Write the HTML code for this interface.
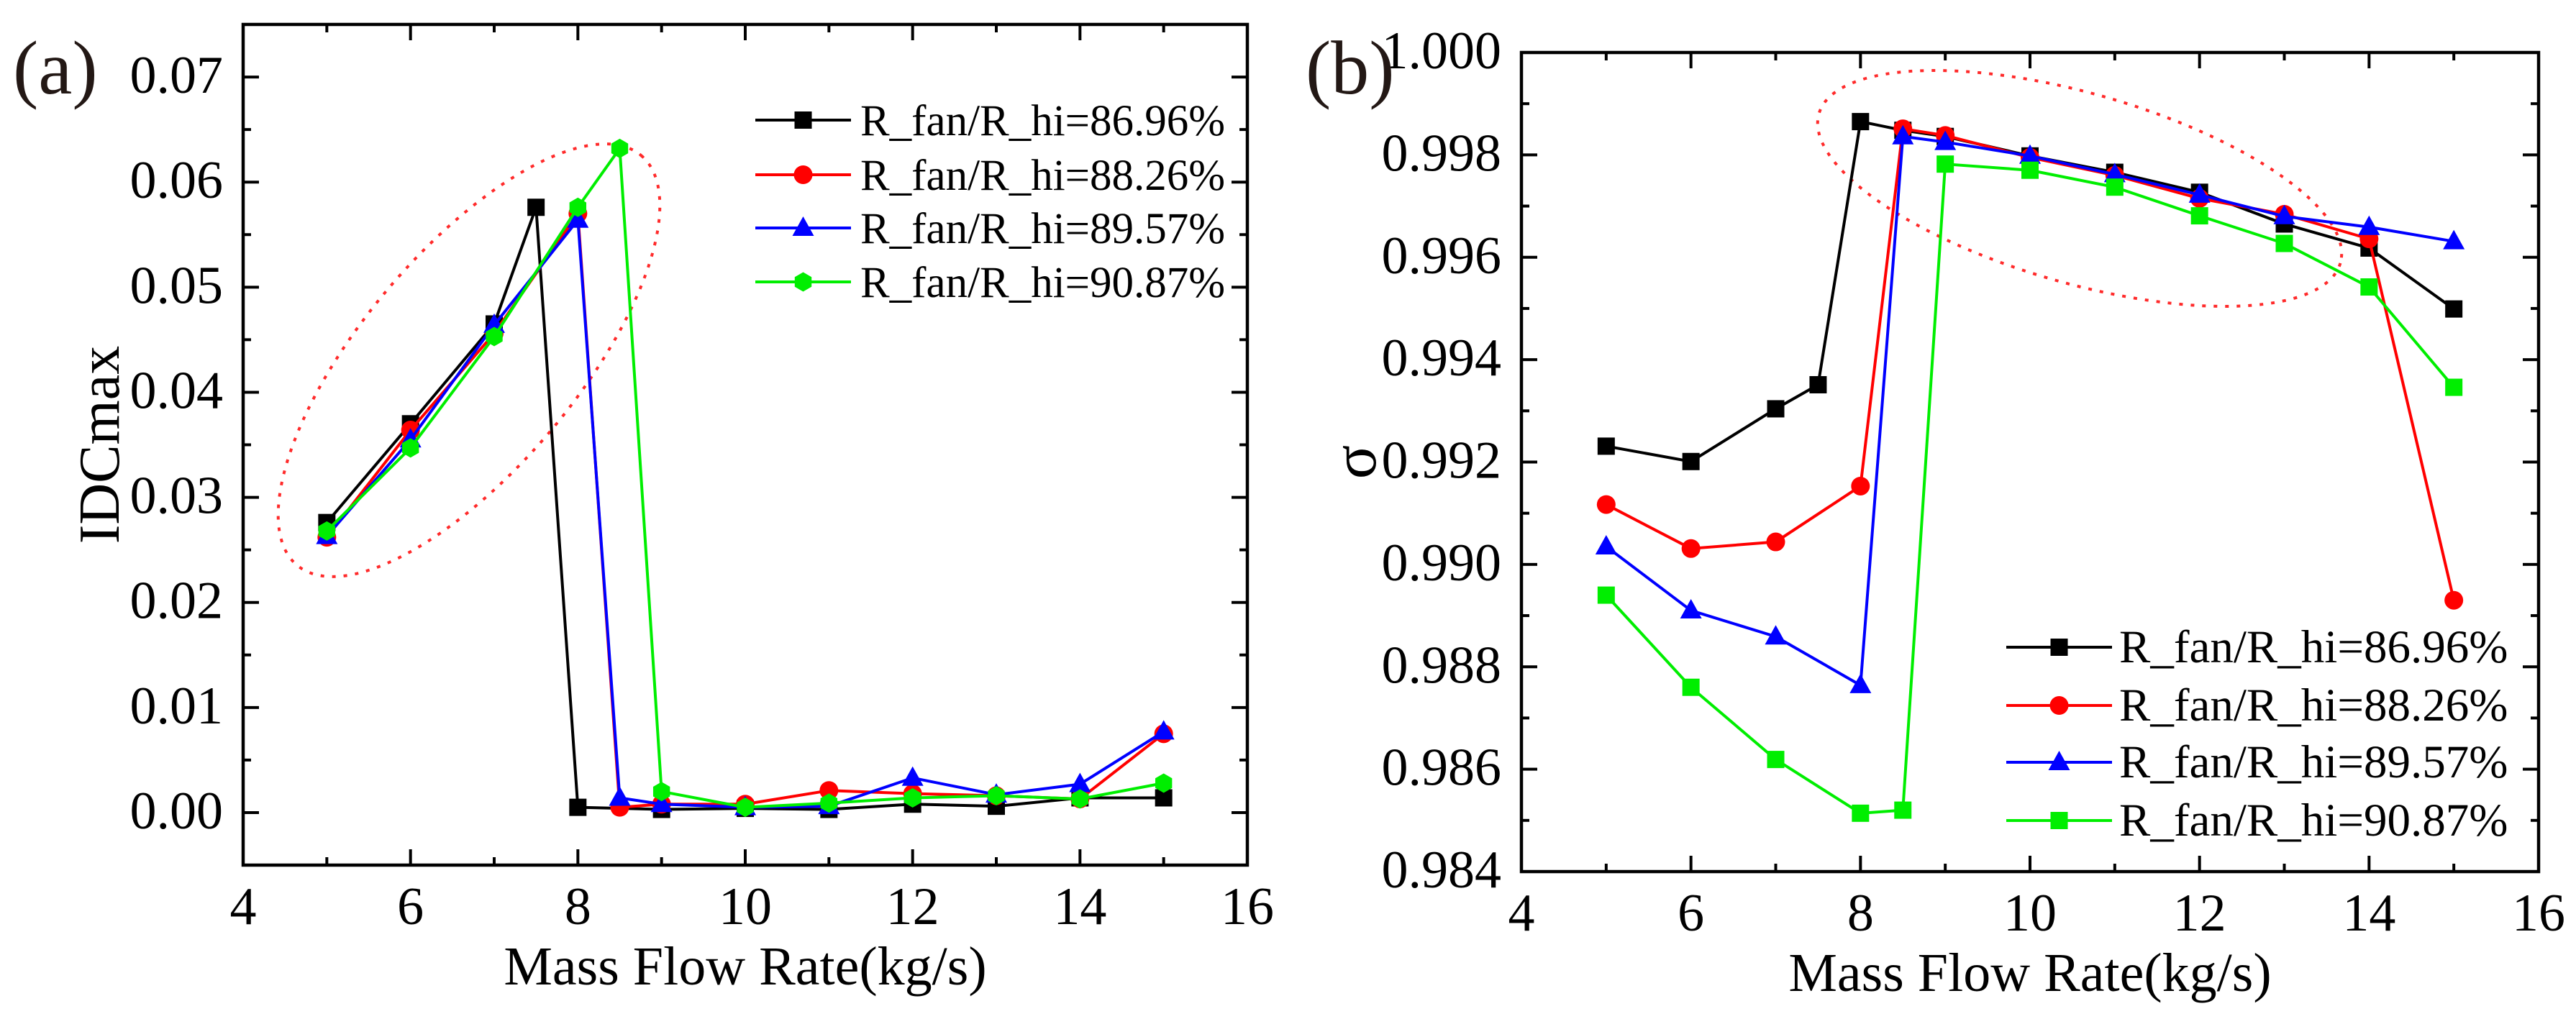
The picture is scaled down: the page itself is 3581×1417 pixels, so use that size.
<!DOCTYPE html>
<html><head><meta charset="utf-8"><style>
html,body{margin:0;padding:0;background:#fff;}
svg text{font-family:"Liberation Serif","Times New Roman",serif;}
</style></head><body>
<svg id="fig" width="3581" height="1412" viewBox="0 0 3581 1412" xmlns="http://www.w3.org/2000/svg">
<rect width="3581" height="1412" fill="#fff"/>
</svg>
<script>
const xsA = [5,6,7,7.5,8,8.5,9,10,11,12,13,14,15];
const blackA = [0.0276,0.0370,0.0465,0.0576,0.0005,null,0.0003,0.0004,0.0003,0.0008,0.0006,0.0014,0.0014];
const xsA2 = [5,6,7,8,8.5,9,10,11,12,13,14,15];
const redA = [0.0262,0.0364,0.0456,0.0570,0.0005,0.0008,0.0008,0.0021,0.0018,0.0016,0.0013,0.0075];
const blueA = [0.0263,0.0355,0.0464,0.0564,0.0014,0.0008,0.0005,0.0006,0.0033,0.0017,0.0027,0.0077];
const greenA = [0.0268,0.0347,0.0453,0.0576,0.0632,0.0020,0.0005,0.0009,0.0014,0.0016,0.0013,0.0028];
const xsB1 = [5,6,7,7.5,8,8.5,9,10,11,12,13,14,15];
const blackB = [0.99231,0.99201,0.99304,0.99351,0.99865,0.99848,0.99836,0.99798,0.99766,0.99727,0.99665,0.99618,0.99499];
const xsB = [5,6,7,8,8.5,9,10,11,12,13,14,15];
const redB = [0.99117,0.99031,0.99044,0.99153,0.99851,0.99838,0.99795,0.99760,0.99715,0.99684,0.99636,0.98930];
const blueB = [0.99035,0.98910,0.98859,0.98764,0.99836,0.99825,0.99798,0.99762,0.99722,0.99680,0.99659,0.99631];
const greenB = [0.98940,0.98760,0.98619,0.98514,0.98520,0.99782,0.99770,0.99737,0.99681,0.99627,0.99542,0.99346];
const xTicks = [4,6,8,10,12,14,16];
const yTicksA = [0,0.01,0.02,0.03,0.04,0.05,0.06,0.07];
const yTicksB = [0.984,0.986,0.988,0.990,0.992,0.994,0.996,0.998,1.000];
const legendLabels = ["R_fan/R_hi=86.96%","R_fan/R_hi=88.26%","R_fan/R_hi=89.57%","R_fan/R_hi=90.87%"];

const NS="http://www.w3.org/2000/svg";
const FF='"Liberation Serif", "Times New Roman", serif';
const svg=document.getElementById('fig');
function mk(tag,attrs,parent,name){const e=document.createElementNS(NS,tag);for(const k in attrs)e.setAttribute(k,attrs[k]);
if(tag==='text'){e.setAttribute('font-family',FF);}


(parent||svg).appendChild(e);return e;}

function marker(g,type,cx,cy,color,name){
  if(type==='sq') return mk('rect',{x:cx-12,y:cy-12,width:24,height:24,fill:color},g,name);
  if(type==='ci') return mk('circle',{cx:cx,cy:cy,r:13,fill:color},g,name);
  if(type==='tri') return mk('polygon',{points:`${cx},${cy-16} ${cx+15},${cy+11} ${cx-15},${cy+11}`,fill:color},g,name);
  if(type==='hex'){let p=[];for(let i=0;i<6;i++){const a=Math.PI/6+i*Math.PI/3;p.push((cx+13.5*Math.cos(a))+','+(cy+13.5*Math.sin(a)));}
    return mk('polygon',{points:p.join(' '),fill:color},g,name);}
}

function panel(o){
  const g=mk('g',{},svg,o.id);
  const X=v=>o.L+(v-4)/12*(o.R-o.L);
  const Y=v=>o.B-(v-o.ymin)/(o.ymax-o.ymin)*(o.B-o.T);
  for(let v=4;v<=16;v+=1){const x=X(v);const len=(v%2===0)?22:11;
    if(v>4&&v<16){mk('line',{x1:x,y1:o.B,x2:x,y2:o.B-len,stroke:'#000','stroke-width':4},g,'x-tick');
    mk('line',{x1:x,y1:o.T,x2:x,y2:o.T+len,stroke:'#000','stroke-width':4},g,'x-tick-top');}}
  xTicks.forEach(v=>{const t=mk('text',{x:X(v),y:o.B+82,'font-size':74,'text-anchor':'middle'},g,'x-tick-label');t.textContent=v;});
  const nMinor=Math.round((o.ymax-o.ymin)/o.minor);
  for(let i=1;i<nMinor;i++){const v=o.ymin+i*o.minor;const y=Y(v);
    const isMaj=o.yTicks.some(t=>Math.abs(t-v)<o.minor/10);const len=isMaj?22:11;
    mk('line',{x1:o.L,y1:y,x2:o.L+len,y2:y,stroke:'#000','stroke-width':4},g,'y-tick');
    mk('line',{x1:o.R,y1:y,x2:o.R-len,y2:y,stroke:'#000','stroke-width':4},g,'y-tick-right');}
  o.yTicks.forEach(v=>{const t=mk('text',{x:o.L-28,y:Y(v)+22,'font-size':74,'text-anchor':'end'},g,'y-tick-label');t.textContent=v.toFixed(o.dec);});
  mk('rect',{x:o.L,y:o.T,width:o.R-o.L,height:o.B-o.T,fill:'none',stroke:'#000','stroke-width':4.5},g,'plot-frame');
  mk('ellipse',{cx:o.el[0],cy:o.el[1],rx:o.el[2],ry:o.el[3],transform:`rotate(${o.el[4]} ${o.el[0]} ${o.el[1]})`,fill:'none',stroke:'#ff2a2a','stroke-width':4,'stroke-dasharray':'5 11'},g,'highlight-ellipse');
  o.series.forEach(s=>{
    const sg=mk('g',{},g,s.name);
    let pts=[];s.xs.forEach((x,i)=>{if(s.ys[i]!==null)pts.push([X(x),Y(s.ys[i])]);});
    mk('polyline',{points:pts.map(p=>p.join(',')).join(' '),fill:'none',stroke:s.color,'stroke-width':4,'stroke-linejoin':'round'},sg,s.name+'-line');
    pts.forEach(p=>marker(sg,s.mk,p[0],p[1],s.color,s.name+'-point'));
  });
  const lg=mk('g',{},g,'legend');
  o.series.forEach((s,i)=>{const y=o.leg.y[i];
    mk('line',{x1:o.leg.x1,y1:y,x2:o.leg.x2,y2:y,stroke:s.color,'stroke-width':4},lg,'legend-line');
    marker(lg,s.mk,(o.leg.x1+o.leg.x2)/2,y,s.color,'legend-marker');
    const t=mk('text',{x:o.leg.tx,y:y+21,'font-size':o.leg.fs},lg,'legend-entry');t.textContent=legendLabels[i];});
  const xt=mk('text',{x:(o.L+o.R)/2,y:o.B+166,'font-size':76,'text-anchor':'middle'},g,'x-axis-title');xt.textContent='Mass Flow Rate(kg/s)';
  const yt=mk('text',{x:o.ytx,y:(o.T+o.B)/2,'font-size':o.ytsize,'text-anchor':'middle',transform:`rotate(-90 ${o.ytx} ${(o.T+o.B)/2})`},g,'y-axis-title');yt.textContent=o.ytitle;
  const pl=mk('text',{x:o.plx,y:o.ply,'font-size':106,fill:'#231815'},g,'panel-label');pl.textContent=o.plabel;
}

panel({id:'panel-a',L:338,R:1734,T:34,B:1203,ymin:-0.005,ymax:0.075,minor:0.005,yTicks:yTicksA,dec:2,
  el:[652,501,372,150,-50],
  series:[{name:'series-86-96',xs:xsA,ys:blackA,color:'#000',mk:'sq'},
          {name:'series-88-26',xs:xsA2,ys:redA,color:'#ff0000',mk:'ci'},
          {name:'series-89-57',xs:xsA2,ys:blueA,color:'#0000ff',mk:'tri'},
          {name:'series-90-87',xs:xsA2,ys:greenA,color:'#00ee00',mk:'hex'}],
  leg:{x1:1050,x2:1183,tx:1196,y:[167,243,317,392],fs:61},
  ytitle:'IDCmax',ytx:165,ytsize:80,plabel:'(a)',plx:18,ply:130});
panel({id:'panel-b',L:2115,R:3529,T:73,B:1212,ymin:0.984,ymax:1.000,minor:0.001,yTicks:yTicksB,dec:3,
  el:[2891,262,377,132,16],
  series:[{name:'series-86-96',xs:xsB1,ys:blackB,color:'#000',mk:'sq'},
          {name:'series-88-26',xs:xsB,ys:redB,color:'#ff0000',mk:'ci'},
          {name:'series-89-57',xs:xsB,ys:blueB,color:'#0000ff',mk:'tri'},
          {name:'series-90-87',xs:xsB,ys:greenB,color:'#00ee00',mk:'sq'}],
  leg:{x1:2789,x2:2936,tx:2946,y:[900,981,1060,1141],fs:65},
  ytitle:'σ',ytx:1912,ytsize:88,plabel:'(b)',plx:1815,ply:130});
</script>
</body></html>
